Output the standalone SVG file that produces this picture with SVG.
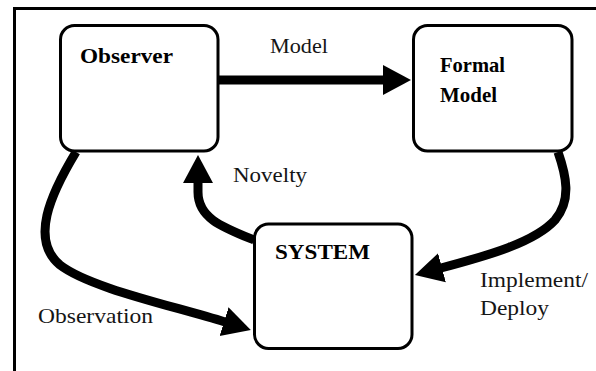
<svg xmlns="http://www.w3.org/2000/svg" width="596" height="371" viewBox="0 0 596 371">
<style>
.box{fill:#fff;stroke:#000;stroke-width:3}
.conn{fill:none;stroke:#000;stroke-width:9}
.t{font-size:21px;fill:#151515}
.b{font-weight:bold;fill:#000}
</style>
<defs>
<marker id="ah" markerUnits="userSpaceOnUse" markerWidth="32" markerHeight="34" viewBox="0 -17 32 34" refX="1" refY="0" orient="auto">
<path d="M0,-15 L28,0 L0,15 z" fill="#000"/>
</marker>
</defs>
<rect width="596" height="371" fill="#fff"/>
<g id="frame">
<line x1="13" y1="8.5" x2="596" y2="8.5" stroke="#000" stroke-width="3"/>
<line x1="14.5" y1="7" x2="14.5" y2="371" stroke="#000" stroke-width="3"/>
</g>
<g font-family="Liberation Serif, DejaVu Serif, serif">
<g id="connectors">
<path class="conn" d="M219,80 L384,80" marker-end="url(#ah)"/>
<path class="conn" d="M558,152 C566,175 572,200 555,220 C535,242 490,255 441,268" marker-end="url(#ah)"/>
<path class="conn" d="M254,240 C222,227 198,218 198,192 L198,182" marker-end="url(#ah)"/>
<path class="conn" d="M76,152 C50,195 30,240 60,265 C90,288 170,305 225,322" marker-end="url(#ah)"/>
<text class="t" x="270" y="53" textLength="58" lengthAdjust="spacingAndGlyphs">Model</text>
<text class="t" x="233" y="182" textLength="74" lengthAdjust="spacingAndGlyphs">Novelty</text>
<text class="t" x="38" y="323" textLength="115" lengthAdjust="spacingAndGlyphs">Observation</text>
<text class="t" x="480" y="287" textLength="108" lengthAdjust="spacingAndGlyphs">Implement/</text>
<text class="t" x="480" y="315" textLength="69" lengthAdjust="spacingAndGlyphs">Deploy</text>
</g>
<g id="observer">
<rect class="box" x="60.5" y="25.5" width="157.5" height="125.5" rx="14"/>
<text class="t b" x="80" y="63" textLength="93" lengthAdjust="spacingAndGlyphs">Observer</text>
</g>
<g id="formal-model">
<rect class="box" x="413.5" y="25.5" width="158.5" height="125.5" rx="14"/>
<text class="t b" x="440" y="72" textLength="65" lengthAdjust="spacingAndGlyphs">Formal</text>
<text class="t b" x="440" y="102" textLength="57" lengthAdjust="spacingAndGlyphs">Model</text>
</g>
<g id="system">
<rect class="box" x="254.5" y="224" width="157.5" height="124.5" rx="14"/>
<text class="t b" x="275" y="259" textLength="95" lengthAdjust="spacingAndGlyphs">SYSTEM</text>
</g>
</g>
</svg>
